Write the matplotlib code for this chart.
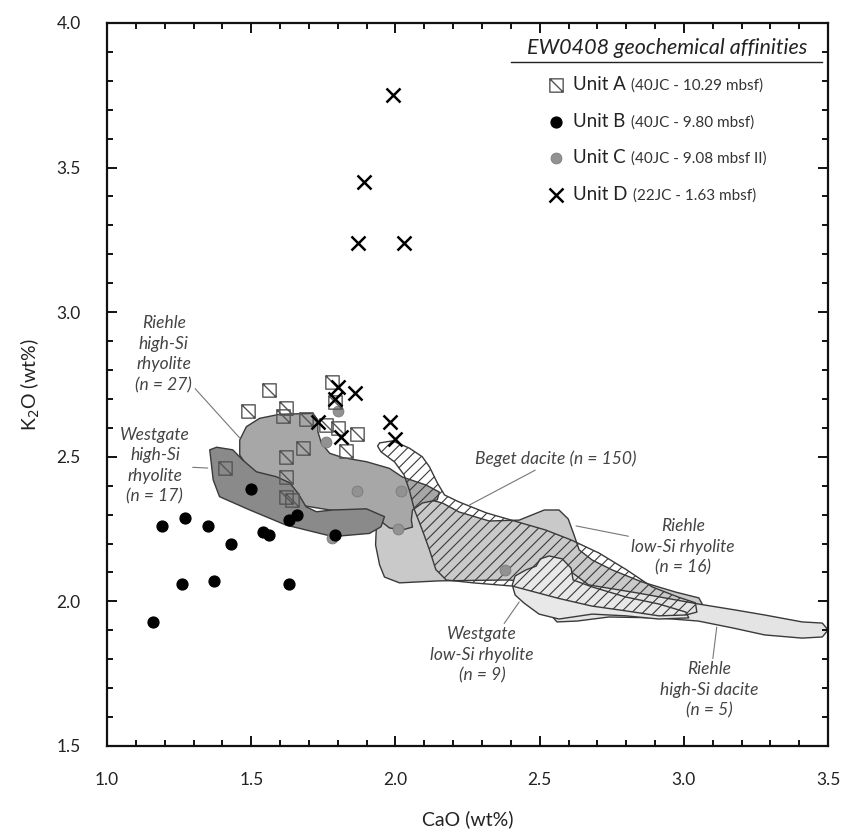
import matplotlib
matplotlib.use("Agg")
import matplotlib.pyplot as plt
import numpy as np
from matplotlib.path import Path
from matplotlib.patches import Polygon
from matplotlib.ticker import MultipleLocator, FormatStrFormatter

plt.rcParams['font.family'] = ['Lato', 'DejaVu Sans']
plt.rcParams['hatch.linewidth'] = 0.8

# --- glass shard analyses (CaO, K2O wt%) ---
unitA_cao = [1.78, 1.56, 1.49, 1.62, 1.61, 1.69, 1.79, 1.76, 1.80, 1.865, 1.83, 1.68, 1.62, 1.41, 1.62, 1.62, 1.64]
unitA_k2o = [2.76, 2.73, 2.66, 2.67, 2.64, 2.63, 2.69, 2.61, 2.60, 2.58, 2.52, 2.53, 2.50, 2.46, 2.43, 2.36, 2.35]

unitB_cao = [1.50, 1.19, 1.27, 1.35, 1.43, 1.54, 1.56, 1.63, 1.66, 1.79, 1.26, 1.37, 1.63, 1.16]
unitB_k2o = [2.39, 2.26, 2.29, 2.26, 2.20, 2.24, 2.23, 2.28, 2.30, 2.23, 2.06, 2.07, 2.06, 1.93]

unitC_cao = [1.80, 1.76, 1.865, 2.02, 2.01, 1.78, 2.38]
unitC_k2o = [2.66, 2.55, 2.38, 2.38, 2.25, 2.22, 2.11]

unitD_cao = [1.99, 1.89, 1.87, 2.03, 1.80, 1.86, 1.79, 1.73, 1.81, 1.98, 2.00]
unitD_k2o = [3.75, 3.45, 3.24, 3.24, 2.74, 2.72, 2.70, 2.62, 2.57, 2.62, 2.56]

# --- reference field outlines (CaO, K2O wt%) ---
riehle_lowsi_cao = [1.934, 1.931, 1.945, 1.962, 2.014, 2.152, 2.394, 2.567, 2.775, 2.913, 3.052, 3.069,
                    3.052, 2.972, 2.855, 2.751, 2.682, 2.637, 2.619, 2.599, 2.567, 2.516, 2.429, 2.325,
                    2.221, 2.163, 2.083, 2.014, 1.979, 1.962]
riehle_lowsi_k2o = [2.264, 2.195, 2.126, 2.084, 2.064, 2.071, 2.074, 2.057, 2.022, 1.994, 1.963, 1.981,
                    2.012, 2.032, 2.067, 2.109, 2.143, 2.178, 2.230, 2.285, 2.316, 2.316, 2.281, 2.278,
                    2.309, 2.340, 2.361, 2.368, 2.351, 2.309]

riehle_hisi_dac_cao = [2.51, 2.55, 2.60, 2.67, 2.84, 3.05, 3.18, 3.28, 3.41, 3.48, 3.50, 3.48, 3.41, 3.28,
                       3.17, 3.05, 2.91, 2.74, 2.63, 2.56, 2.53, 2.53, 2.51]
riehle_hisi_dac_k2o = [2.126, 2.143, 2.109, 2.057, 2.029, 1.991, 1.970, 1.953, 1.929, 1.925, 1.901, 1.877,
                       1.873, 1.884, 1.908, 1.932, 1.943, 1.946, 1.932, 1.929, 1.963, 2.022, 2.074]

westgate_lowsi_cao = [2.405, 2.415, 2.453, 2.488, 2.502, 2.533, 2.578, 2.609, 2.616, 2.682, 2.799, 2.913,
                      3.007, 3.017, 2.913, 2.799, 2.682, 2.567, 2.498, 2.446, 2.415]
westgate_lowsi_k2o = [2.057, 2.088, 2.109, 2.122, 2.147, 2.157, 2.147, 2.115, 2.074, 2.050, 2.015, 1.991,
                      1.963, 1.943, 1.939, 1.950, 1.956, 1.939, 1.956, 1.994, 2.022]

riehle_hisi_rhy_cao = [1.46, 1.483, 1.529, 1.599, 1.714, 1.731, 1.731, 1.743, 1.772, 1.818, 1.899, 1.979,
                       2.024, 2.107, 2.152, 2.145, 2.093, 2.059, 2.055, 2.059, 2.024, 1.979, 1.945, 1.875,
                       1.772, 1.668, 1.633, 1.564, 1.495, 1.46]
riehle_hisi_rhy_k2o = [2.558, 2.604, 2.633, 2.647, 2.650, 2.627, 2.587, 2.547, 2.512, 2.497, 2.483, 2.460,
                       2.430, 2.402, 2.378, 2.351, 2.340, 2.316, 2.281, 2.257, 2.247, 2.254, 2.281, 2.309,
                       2.316, 2.333, 2.402, 2.427, 2.454, 2.506]

westgate_hisi_cao = [1.356, 1.38, 1.436, 1.47, 1.518, 1.587, 1.633, 1.662, 1.69, 1.726, 1.783, 1.899,
                     1.962, 1.95, 1.91, 1.783, 1.62, 1.495, 1.39, 1.368]
westgate_hisi_k2o = [2.524, 2.533, 2.524, 2.489, 2.448, 2.431, 2.41, 2.374, 2.327, 2.31, 2.316, 2.32,
                     2.293, 2.258, 2.235, 2.224, 2.264, 2.316, 2.362, 2.42]

beget_cao = [1.945, 1.99, 2.048, 2.093, 2.118, 2.145, 2.17, 2.22, 2.315, 2.405, 2.52, 2.61, 2.706, 2.80,
             2.89, 2.98, 3.04, 3.045, 3.007, 2.913, 2.80, 2.68, 2.567, 2.405, 2.27, 2.176, 2.14, 2.118,
             2.093, 2.066, 2.048, 2.03, 1.997, 1.95, 1.938]
beget_k2o = [2.548, 2.555, 2.53, 2.50, 2.465, 2.41, 2.368, 2.344, 2.306, 2.28, 2.247, 2.212, 2.167, 2.11,
             2.05, 2.015, 1.995, 1.963, 1.953, 1.95, 1.967, 1.984, 2.01, 2.053, 2.064, 2.074, 2.11, 2.178,
             2.247, 2.316, 2.385, 2.437, 2.482, 2.517, 2.537]

legend_units = ['Unit A', 'Unit B', 'Unit C', 'Unit D']
legend_notes = ['(40JC - 10.29 mbsf)', '(40JC - 9.80 mbsf)', '(40JC - 9.08 mbsf II)', '(22JC - 1.63 mbsf)']

fig = plt.figure(figsize=(8.43, 8.35), dpi=100)
ax = fig.add_axes([0.127, 0.1066, 0.8553, 0.8659])

edge = '#3a3a3a'
fields = [
    (riehle_lowsi_cao, riehle_lowsi_k2o, '#c9c9c9', None),
    (riehle_hisi_dac_cao, riehle_hisi_dac_k2o, '#e4e4e4', None),
    (westgate_lowsi_cao, westgate_lowsi_k2o, '#e8e8e8', None),
    (riehle_hisi_rhy_cao, riehle_hisi_rhy_k2o, '#a7a7a7', None),
    (westgate_hisi_cao, westgate_hisi_k2o, '#8a8a8a', None),
    (beget_cao, beget_k2o, 'none', '///'),
]
for cx, ky, fc, hatch in fields:
    poly = Polygon(np.column_stack([cx, ky]), closed=True, facecolor=fc, edgecolor=edge,
                   linewidth=1.0, hatch=hatch, joinstyle='round')
    ax.add_patch(poly)

# hatched square marker for Unit A
sq = Path([(-1, -1), (1, -1), (1, 1), (-1, 1), (-1, -1), (-1, 1), (1, -1)],
          [Path.MOVETO, Path.LINETO, Path.LINETO, Path.LINETO, Path.CLOSEPOLY, Path.MOVETO, Path.LINETO])

styleA = dict(marker=sq, ms=9.6, mfc='none', mec='#555555', mew=1.0)
styleB = dict(marker='o', ms=7.8, mfc='black', mec='black')
styleC = dict(marker='o', ms=7.8, mfc='#929292', mec='#7a7a7a', mew=0.6)
styleD = dict(marker='x', ms=10.5, mec='black', mew=1.8)

ax.plot(unitC_cao, unitC_k2o, ls='none', zorder=5, **styleC)
ax.plot(unitA_cao, unitA_k2o, ls='none', zorder=6, **styleA)
ax.plot(unitB_cao, unitB_k2o, ls='none', zorder=7, **styleB)
ax.plot(unitD_cao, unitD_k2o, ls='none', zorder=8, **styleD)

# field labels
lab = dict(style='italic', fontsize=12.5, color='#444444', ha='center', va='center',
           linespacing=1.35, zorder=9)
arrow = dict(arrowstyle='-', color='#777777', lw=0.8, shrinkA=0, shrinkB=0)
ax.annotate('Riehle\nhigh-Si\nrhyolite\n(n = 27)', xy=(1.46, 2.565), xytext=(1.197, 2.855),
            arrowprops=arrow, **lab)
ax.annotate('Westgate\nhigh-Si\nrhyolite\n(n = 17)', xy=(1.349, 2.461), xytext=(1.166, 2.47),
            arrowprops=arrow, **lab)
ax.annotate('Beget dacite (n = 150)', xy=(2.256, 2.333), xytext=(2.557, 2.492), arrowprops=arrow, **lab)
ax.annotate('Riehle\nlow-Si rhyolite\n(n = 16)', xy=(2.626, 2.261), xytext=(2.997, 2.188),
            arrowprops=arrow, **lab)
ax.annotate('Westgate\nlow-Si rhyolite\n(n = 9)', xy=(2.429, 1.998), xytext=(2.301, 1.815),
            arrowprops=arrow, **lab)
ax.annotate('Riehle\nhigh-Si dacite\n(n = 5)', xy=(3.114, 1.911), xytext=(3.087, 1.694),
            arrowprops=arrow, **lab)

# legend drawn by hand
ax.text(0.7767, 0.9654, 'EW0408 geochemical affinities', transform=ax.transAxes, style='italic',
        fontsize=15.5, ha='center', va='center', color='#222222')
ax.plot([0.56, 0.9917], [0.946, 0.946], transform=ax.transAxes, color='#222222', lw=1.0, clip_on=False)
rows = [0.9142, 0.8631, 0.8133, 0.7621]
for yy, unit, note, st in zip(rows, legend_units, legend_notes, [styleA, styleB, styleC, styleD]):
    ax.plot([0.6227], [yy], ls='none', transform=ax.transAxes, clip_on=False, **st)
    t = ax.text(0.6463, yy, unit, transform=ax.transAxes, fontsize=13.5, va='center', ha='left',
                color='#222222')
    ax.annotate(note, xy=(1, 0), xycoords=t, xytext=(4, 0.5), textcoords='offset points',
                fontsize=11, va='bottom', ha='left', color='#333333')

ax.set_xlim(1.0, 3.5)
ax.set_ylim(1.5, 4.0)
ax.xaxis.set_major_locator(MultipleLocator(0.5))
ax.xaxis.set_minor_locator(MultipleLocator(0.1))
ax.yaxis.set_major_locator(MultipleLocator(0.5))
ax.yaxis.set_minor_locator(MultipleLocator(0.1))
ax.xaxis.set_major_formatter(FormatStrFormatter('%.1f'))
ax.yaxis.set_major_formatter(FormatStrFormatter('%.1f'))
ax.tick_params(which='both', direction='in', top=True, right=True, width=1.4, color='#111111')
ax.tick_params(which='major', length=7, labelsize=12.5, pad=19, labelcolor='#222222')
ax.tick_params(which='minor', length=4.5)
for sp in ax.spines.values():
    sp.set_linewidth(1.6)
    sp.set_color('#111111')

ax.set_xlabel('CaO (wt%)', fontsize=14, labelpad=16, color='#222222')
ax.set_ylabel('K$_2$O (wt%)', fontsize=14, labelpad=10, color='#222222')

fig.savefig('out.png', dpi=100)
